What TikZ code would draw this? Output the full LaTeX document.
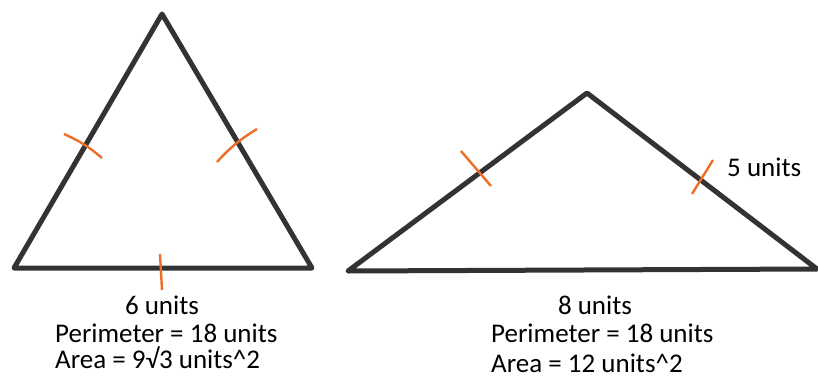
\documentclass[tikz,border=0pt]{standalone}
\usepackage{fontspec}
\setmainfont{Carlito}
\usepackage{tikz}

\definecolor{edgegray}{RGB}{51,51,51}
\definecolor{tickorange}{RGB}{237,110,40}

\tikzset{
  side/.style={edgegray, line width=5pt, line join=round, line cap=round},
  tickmark/.style={tickorange, line width=2.4pt},
  lbl/.style={inner sep=0pt, font=\fontsize{27}{32}\selectfont}
}

\begin{document}
\begin{tikzpicture}[x=1pt,y=-1pt]
  \useasboundingbox[fill=white] (0,0) rectangle (818,378);

  % Equilateral triangle
  \coordinate (eqtop) at (162,14);
  \coordinate (eqleft) at (14,268);
  \coordinate (eqright) at (312,268);
  \draw[side] (eqtop) -- (eqleft) -- (eqright) -- cycle;

  % Isosceles triangle
  \coordinate (isotop) at (587,93);
  \coordinate (isoleft) at (348,271);
  \coordinate (isoright) at (817,269);
  \draw[side] (isotop) -- (isoleft) -- (isoright) -- cycle;

  % Equal side marks
  \draw[tickmark] (64,134) to[bend left=8] (102,158);
  \draw[tickmark] (257,129) to[bend right=8] (217,162);
  \draw[tickmark] (160,254) -- (162,290);
  \draw[tickmark] (461,151) -- (491,186);
  \draw[tickmark] (713,160) -- (692,194);

  % Labels
  \node[lbl, anchor=base] (eqbase) at (162,314) {6 units};
  \node[lbl, anchor=base west] (eqper) at (55,342) {Perimeter = 18 units};
  \node[lbl, anchor=base west] (eqarea) at (55,368) {Area = 9√3 units\^{}2};

  \node[lbl, anchor=base west] (isoside) at (727,176) {5 units};
  \node[lbl, anchor=base] (isobase) at (595,314) {8 units};
  \node[lbl, anchor=base west] (isoper) at (491,342) {Perimeter = 18 units};
  \node[lbl, anchor=base west] (isoarea) at (491,372) {Area = 12 units\^{}2};
\end{tikzpicture}
\end{document}
